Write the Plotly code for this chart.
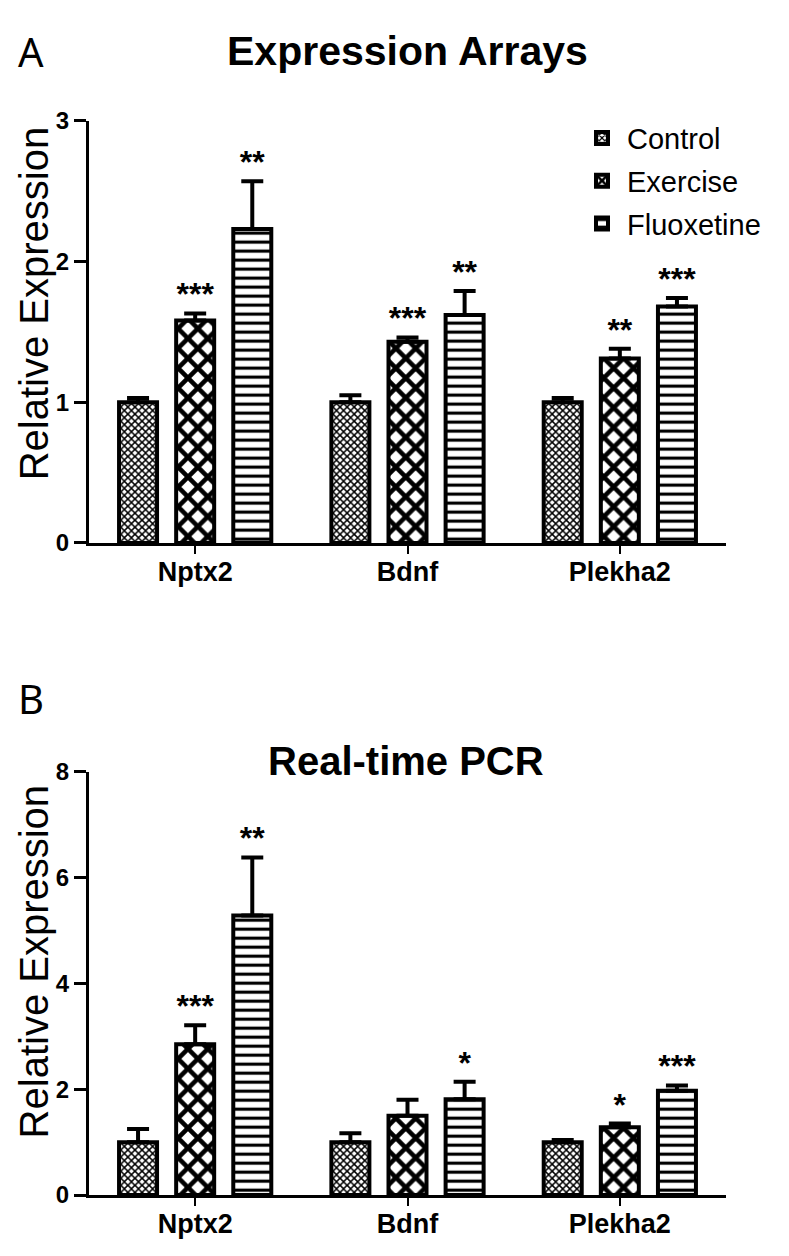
import plotly.graph_objects as go

# genes and treatment groups
genes = ["Nptx2", "Bdnf", "Plekha2"]
groups = ["Control", "Exercise", "Fluoxetine"]

# panel A - expression arrays (mean, SEM)
arr_ctrl = [1.00, 1.00, 1.00]
arr_ctrl_err = [0.03, 0.05, 0.03]
arr_exer = [1.58, 1.43, 1.31]
arr_exer_err = [0.05, 0.03, 0.07]
arr_fluo = [2.23, 1.62, 1.68]
arr_fluo_err = [0.34, 0.17, 0.06]
arr_stars_exer = ["***", "***", "**"]
arr_stars_fluo = ["**", "**", "***"]

# panel B - real-time PCR (mean, SEM)
pcr_ctrl = [1.00, 1.00, 1.00]
pcr_ctrl_err = [0.25, 0.17, 0.04]
pcr_exer = [2.85, 1.50, 1.28]
pcr_exer_err = [0.36, 0.30, 0.07]
pcr_fluo = [5.28, 1.81, 1.97]
pcr_fluo_err = [1.10, 0.33, 0.10]
pcr_stars_exer = ["***", "", "*"]
pcr_stars_fluo = ["**", "*", "***"]

W, H = 773, 1260
FONT = "Liberation Sans, Arial, sans-serif"

patterns = {
    "Control": dict(shape="x", size=5, solidity=0.5),
    "Exercise": dict(shape="x", size=14, solidity=0.55),
    "Fluoxetine": dict(shape="-", size=9, solidity=0.35),
}
offsets = [-0.269, 0.0, 0.269]
bar_w = 0.179

fig = go.Figure()


def add_panel(vals, errs, stars, xa, ya, legend):
    for k, name in enumerate(groups):
        xs = [i + offsets[k] for i in range(len(genes))]
        pat = patterns[name]
        fig.add_trace(go.Bar(
            x=xs, y=vals[k], width=bar_w, name=name,
            xaxis=xa, yaxis=ya, legendgroup=name, showlegend=legend,
            marker=dict(color="black",
                        line=dict(color="black", width=4),
                        pattern=dict(shape=pat["shape"], size=pat["size"],
                                     solidity=pat["solidity"],
                                     fgcolor="black", bgcolor="white",
                                     fillmode="replace")),
            error_y=dict(type="data", array=errs[k],
                         arrayminus=[0] * len(genes), symmetric=False,
                         color="black", thickness=4, width=11),
        ))
        if stars[k] is not None:
            fig.add_trace(go.Scatter(
                x=xs, y=[v + e for v, e in zip(vals[k], errs[k])],
                mode="text", text=stars[k], textposition="top center",
                textfont=dict(family=FONT, size=32, color="black",
                              weight="bold"),
                xaxis=xa, yaxis=ya, showlegend=False, cliponaxis=False,
                hoverinfo="skip",
            ))


add_panel([arr_ctrl, arr_exer, arr_fluo],
          [arr_ctrl_err, arr_exer_err, arr_fluo_err],
          [None, arr_stars_exer, arr_stars_fluo], "x", "y", True)
add_panel([pcr_ctrl, pcr_exer, pcr_fluo],
          [pcr_ctrl_err, pcr_exer_err, pcr_fluo_err],
          [None, pcr_stars_exer, pcr_stars_fluo], "x2", "y2", False)


# screenshot pixels -> paper fractions (page has a body margin and the
# capture is squeezed a little vertically)
def px_x(v):
    return (v - 8) / W


def px_y(v):
    return 1 - ((v - 13.4) / 0.98 - 8) / H


xdom = [px_x(89), px_x(726)]
dom_a = [px_y(543), px_y(120)]
dom_b = [px_y(1196), px_y(772)]

xcommon = dict(range=[-0.5, 2.5], tickvals=[0, 1, 2], ticktext=genes,
               showline=True, linecolor="black", linewidth=3,
               ticks="outside", ticklen=8, tickwidth=2, tickcolor="black",
               ticklabelstandoff=-5,
               showgrid=False, zeroline=False,
               tickfont=dict(family=FONT, size=27, color="black",
                             weight="bold"))
ycommon = dict(showline=True, linecolor="black", linewidth=3,
               ticks="outside", ticklen=12, tickwidth=3, tickcolor="black",
               showgrid=False, zeroline=False,
               tickfont=dict(family=FONT, size=24, color="black",
                             weight="bold"))

fig.update_layout(
    width=W, height=H, margin=dict(l=0, r=0, t=0, b=0),
    paper_bgcolor="white", plot_bgcolor="white",
    barmode="overlay",
    xaxis=dict(domain=xdom, anchor="y", **xcommon),
    yaxis=dict(domain=dom_a, anchor="x", range=[0, 3], dtick=1, **ycommon),
    xaxis2=dict(domain=xdom, anchor="y2", **xcommon),
    yaxis2=dict(domain=dom_b, anchor="x2", range=[0, 8], dtick=2, **ycommon),
    legend=dict(x=px_x(577), y=px_y(112), xanchor="left", yanchor="top",
                font=dict(family=FONT, size=29, color="black"),
                bgcolor="rgba(0,0,0,0)", itemwidth=40, tracegroupgap=2),
    showlegend=True,
)

# titles, panel letters and y-axis titles (positions in screenshot pixels)
texts = [
    ("B", 31, 699, "Noto Sans, sans-serif", 40, "normal", 0),
    ("Expression Arrays", 407, 50, FONT, 41, "bold", 0),
    ("Real-time PCR", 406, 761, FONT, 40, "bold", 0),
    ("Relative Expression", 34, 303, FONT, 40, "normal", -90),
    ("Relative Expression", 34, 962, FONT, 40, "normal", -90),
]
for t, x0, y0, fam, sz, wt, ang in texts:
    fig.add_annotation(text=t, x=px_x(x0), y=px_y(y0), xref="paper",
                       yref="paper", showarrow=False, textangle=ang,
                       xanchor="center", yanchor="middle",
                       font=dict(family=fam, size=sz, color="black",
                                 weight=wt))
# "A" sits right at the top edge
fig.add_annotation(text="A", x=px_x(31), y=1, xref="paper", yref="paper",
                   showarrow=False, xanchor="center", yanchor="top",
                   font=dict(family="Noto Sans, sans-serif", size=40,
                             color="black"))

fig.write_html("out.html")
